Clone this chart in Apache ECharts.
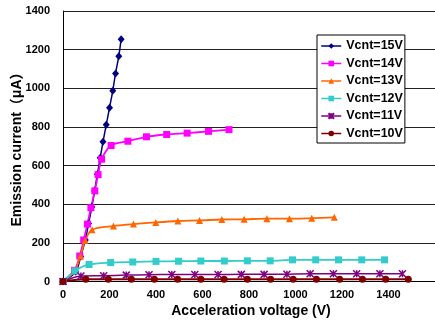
<!DOCTYPE html>
<html>
<head>
<meta charset="utf-8">
<script src="https://cdn.jsdelivr.net/npm/echarts@6/dist/echarts.min.js"></script>
<style>
html,body{margin:0;padding:0;background:#fff;}
#c{width:435px;height:320px;}
</style>
</head>
<body>
<div id="c"></div>
<script>
// ---- data ----
var seriesNames = ['Vcnt=15V','Vcnt=14V','Vcnt=13V','Vcnt=12V','Vcnt=11V','Vcnt=10V'];
var xTickLabels = ['0','200','400','600','800','1000','1200','1400'];
var yTickLabels = ['0','200','400','600','800','1000','1200','1400'];

var v15x = [0,55,76,96,110,124,136,148,160,172,186,200,214,226,240,250];
var v15y = [0,50,130,215,300,385,470,555,640,723,811,899,987,1077,1166,1254];

var v14x = [0,50,72,89,105,120,137,151,166,207,279,359,446,534,626,714];
var v14y = [0,58,132,215,297,382,469,553,633,704,726,749,761,768,777,786];

var v13x = [0,50,75,95,125,217,303,399,494,587,683,779,877,974,1070,1167];
var v13y = [0,55,132,212,268,287,297,306,313,316,321,322,325,325,328,332];

var v12x = [0,52,112,205,300,400,497,593,694,793,891,987,1087,1185,1285,1383];
var v12y = [0,55,88,98,101,104,105,106,106,107,107,112,112,112,112,112];

var v11x = [0,77,175,272,370,468,567,667,767,865,963,1063,1163,1263,1363,1460];
var v11y = [0,28,30,33,35,36,36,36,37,37,38,40,40,40,40,40];

var v10x = [0,98,195,294,393,493,593,693,793,893,990,1090,1190,1288,1388,1485];
var v10y = [0,12,12,12,12,12,12,12,12,12,12,12,12,12,12,12];

function zip(xs, ys){ return xs.map(function(x,i){ return [x, ys[i]]; }); }

var FONT = "'Liberation Sans', Arial, 'Noto Sans CJK JP', sans-serif";
var asterisk = 'path://M0,0L10,10M10,0L0,10M5,0L5,10';

var styles = [
  {color:'#000080', symbol:'diamond', size:[7,8], width:1.5},
  {color:'#FF00FF', symbol:'rect', size:7, width:1.8},
  {color:'#FF6600', symbol:'triangle', size:7, width:1.8},
  {color:'#33CCCC', symbol:'rect', size:7, width:1.8},
  {color:'#800080', symbol:asterisk, size:7, width:1.5},
  {color:'#800000', symbol:'circle', size:7, width:2}
];
var datas = [zip(v15x,v15y), zip(v14x,v14y), zip(v13x,v13y), zip(v12x,v12y), zip(v11x,v11y), zip(v10x,v10y)];

var series = seriesNames.map(function(n,i){
  var s = styles[i];
  var item = {color:s.color};
  if (i === 4) { item.borderColor = s.color; item.borderWidth = 1.5; }
  return {
    name:n, type:'line', data:datas[i], smooth:0.3,
    symbol:s.symbol, symbolSize:s.size, showAllSymbol:true,
    lineStyle:{color:s.color, width:s.width},
    itemStyle:item
  };
});

var chart = echarts.init(document.getElementById('c'), null, {renderer:'canvas'});
chart.setOption({
  animation:false,
  backgroundColor:'#fff',
  grid:{left:63, top:11, bottom:38.5, right:-28, containLabel:false},
  xAxis:{
    type:'value', min:0, max:1600, interval:200,
    axisLine:{show:true, onZero:false, lineStyle:{color:'#000', width:1}},
    axisTick:{show:false},
    splitLine:{show:false},
    axisLabel:{
      margin:8, color:'#000', fontSize:11, fontWeight:'bold', fontFamily:FONT,
      showMaxLabel:false,
      formatter:function(v){ var k = xTickLabels.indexOf(String(v)); return k>=0 ? xTickLabels[k] : ''; }
    }
  },
  yAxis:{
    type:'value', min:0, max:1400, interval:200,
    axisLine:{show:true, lineStyle:{color:'#000', width:1}},
    axisTick:{show:false},
    splitLine:{show:true, lineStyle:{color:'#222', width:1}},
    axisLabel:{
      margin:13, color:'#000', fontSize:11, fontWeight:'bold', fontFamily:FONT,
      formatter:function(v){ var k = yTickLabels.indexOf(String(v)); return k>=0 ? yTickLabels[k] : ''; }
    }
  },
  legend:{
    orient:'vertical', left:317, top:35,
    data:seriesNames,
    backgroundColor:'#fff', borderColor:'#000', borderWidth:1,
    padding:[4.5,2,3,3.5],
    itemWidth:20, itemHeight:7, itemGap:4.5,
    lineStyle:{width:1.5},
    textStyle:{color:'#000', fontSize:12.5, fontWeight:'bold', fontFamily:FONT, lineHeight:13, height:13}
  },
  graphic:[
    {type:'text', x:251, y:311, style:{text:'Acceleration voltage (V)', align:'center', verticalAlign:'middle', fill:'#000', font:'bold 14px ' + FONT}},
    {type:'text', rotation:Math.PI/2, x:17.5, y:146, style:{text:'Emission current（μA）', align:'center', verticalAlign:'middle', fill:'#000', font:'bold 14px ' + FONT}}
  ],
  series:series
});
</script>
</body>
</html>
